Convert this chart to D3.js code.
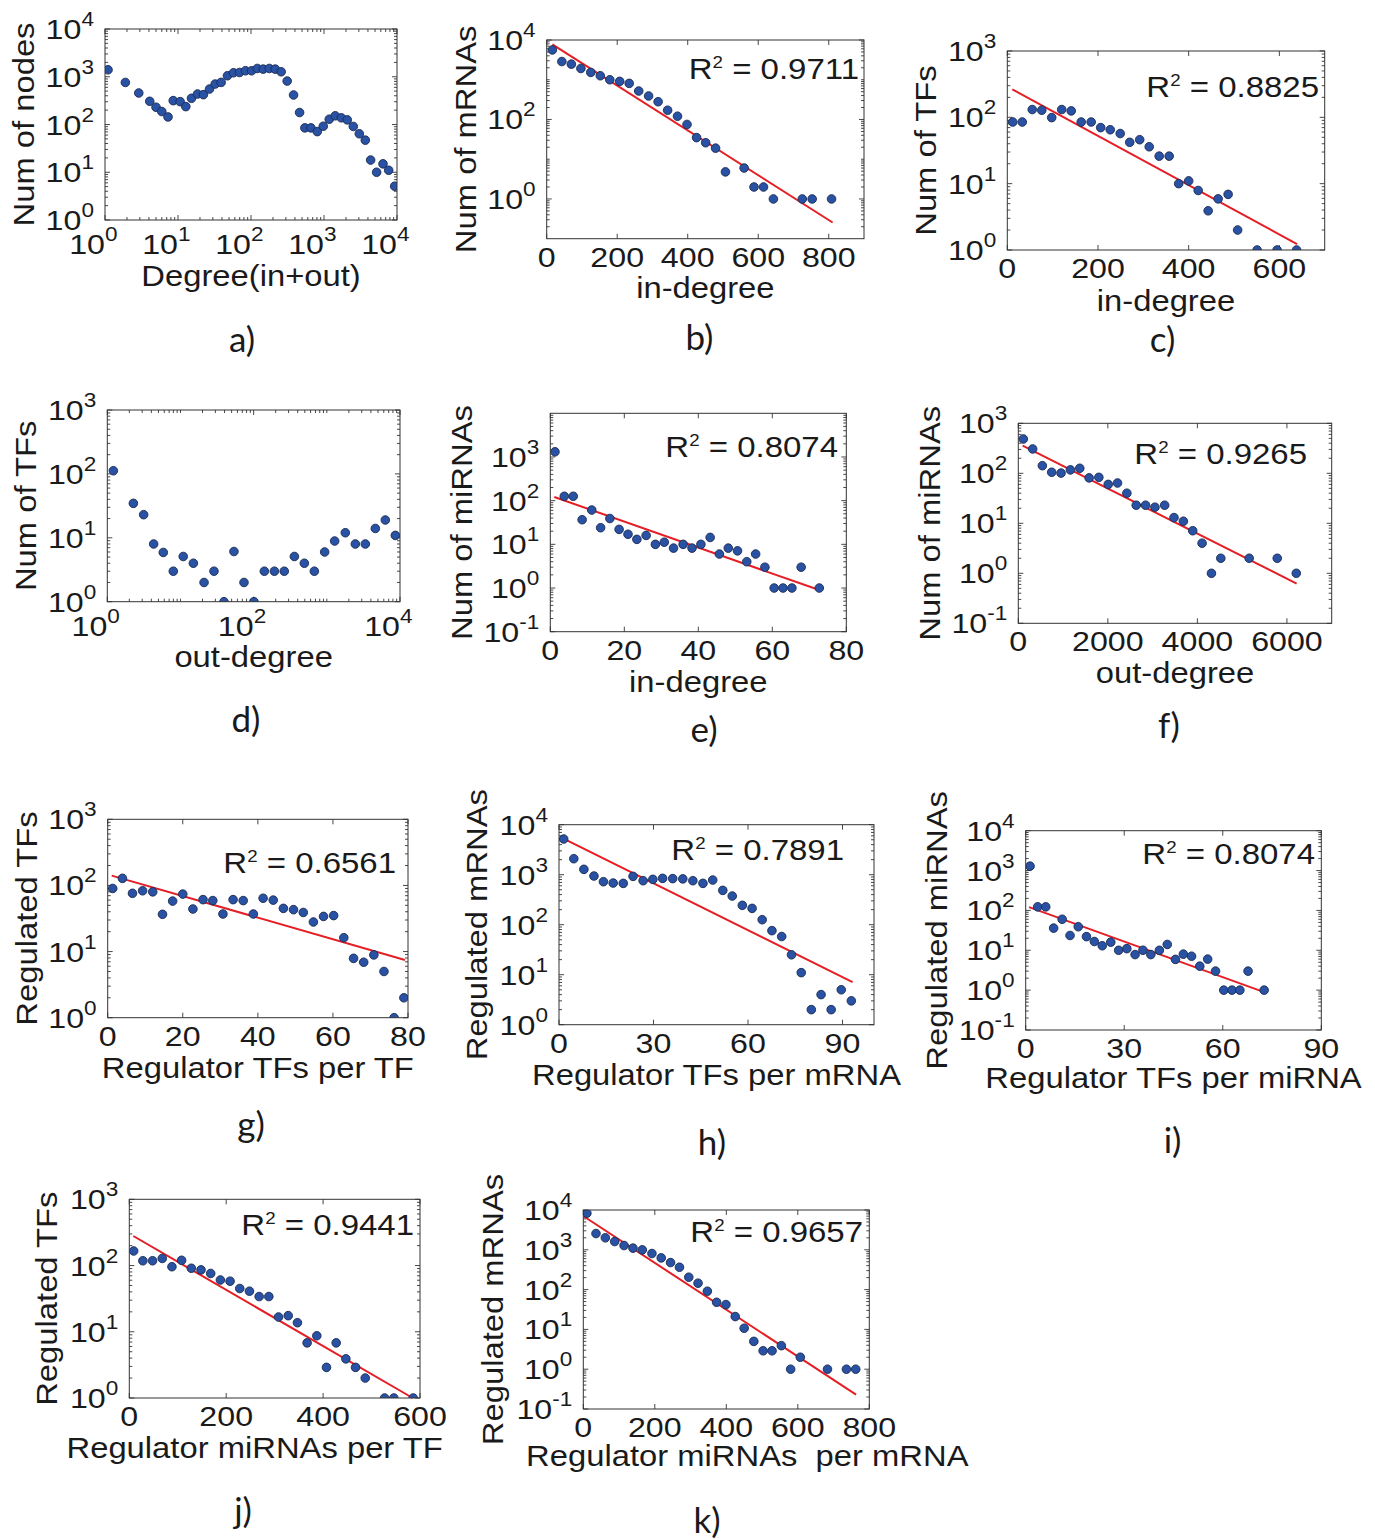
<!DOCTYPE html>
<html>
<head>
<meta charset="utf-8">
<script src="https://cdn.jsdelivr.net/npm/d3@7"></script>
<style>
  body { margin: 0; background: #fff; }
  text { font-family: "Liberation Sans", Arial, sans-serif; fill: #1a1a1a; }
  .lab { font-family: Lato, "Open Sans", sans-serif; }
</style>
</head>
<body>
<svg id="fig" width="1375" height="1540"></svg>
<script>
// ---- data ----
// a) all nodes, log-log
var degA   = [1.1,1.9,2.9,4.1,5,6,7.3,8.6,10.7,12.8,15.3,18.5,22.3,27,32.3,39,47.6,57.6,69.6,84,102,122,147,178,215,259,313,383,463,547,662,808,977,1180,1426,1725,2083,2519,3044,3680,4352,5261,6430,7690,9290];
var nodesA = [1400,760,457,306,230,187,144,316,301,237,354,435,422,553,703,762,1050,1211,1230,1334,1334,1492,1445,1492,1445,1271,812,415,178,85,85,71,92,129,152,138,125,91,64,47,18,10,15,11,5.1];
// b) mRNA in-degree
var inDegB = [16,43,70,97,125,152,179,207,234,261,289,316,343,371,398,425,451,479,507,560,588,615,643,725,753,808];
var mrnaB  = [5620,2870,2470,1920,1530,1260,1000,910,810,520,390,280,171,121,75,35,26,19,4.8,6,2,2,1,1,1,1];
// c) TF in-degree
var inDegC = [12,33,55,76,98,120,141,163,185,206,227,249,270,292,313,335,357,378,400,421,443,465,487,508,551,595,638];
var tfC    = [85,85,131,128,99,131,125,85,85,70,65,57,42,46,36,26,26,10,11,7.9,3.9,5.9,6.9,2,1,1,1];
// d) TF out-degree, log-log
var outDegD = [1.21,2.27,3.14,4.3,5.82,7.98,10.9,15,21,28.7,39.3,53.8,73.8,101,140,192,262,360,493,675,934,1279,1790,2453,3359,4600,6305,8635];
var tfD     = [112,34.6,23,8,5.9,3,5.1,4,2,3,1,6.1,2,1,3,3,3,5.1,4,3,6,8.9,12,8,8,14,19,10.9];
// e) miRNA in-degree
var inDegE = [1.26,3.78,6.2,8.6,11.2,13.6,16.1,18.6,21,23.4,25.9,28.4,30.8,33.3,35.9,38.3,40.7,43.2,45.7,48.1,50.6,53.1,55.5,58,60.5,62.9,65.3,67.8,72.7];
var mirE   = [1315,126,126,36.6,61,24,39,22,17,13,16,10,11.2,8.2,10,8.2,10,14.4,6,8.2,7.1,4,6,3,1,1,1,3,1];
// f) miRNA out-degree
var outDegF = [112,321,537,746,955,1164,1373,1582,1799,2008,2216,2425,2634,2843,3052,3269,3478,3687,3896,4105,4314,4523,5157,5784,6209];
var mirF    = [486,307,142,105,101,117,126,81,83,60,64,40,23,23,21,23,13,11,7.1,4,1,2,2,2,1];
// g) regulator TFs per TF
var regG = [1.34,3.93,6.6,9.3,12,14.6,17.3,20,22.7,25.4,28,30.7,33.4,36.1,38.8,41.4,44.1,46.8,49.5,52.1,54.8,57.5,60.2,62.9,65.5,68.2,70.9,73.6,76.3,78.9];
var tfG  = [90,128,76,83,80,36.6,58,74,44,61,59,37,61,59,37,64,60,45,43,39,28,34,35,16.2,7.9,6.9,8.9,5,1,2];
// h) regulator TFs per mRNA
var regH  = [1.49,4.7,7.9,11.1,14.1,17.2,20.4,23.5,26.7,29.8,32.9,36.1,39.3,42.5,45.7,48.8,52,55,58.2,61.3,64.5,67.6,70.7,73.8,76.9,80.1,83.2,86.4,89.6,92.8];
var mrnaH = [5170,2090,1280,940,724,681,671,926,759,807,845,835,825,759,671,782,486,374,244,212,126,76,58,25,11,2,4,2,5,3];
// i) regulator TFs per miRNA
var regI = [1.32,3.65,6.1,8.5,11.1,13.5,16,18.5,20.9,23.3,25.9,28.3,30.8,33.3,35.7,38.1,40.7,43.1,45.6,48,50.5,53,55.4,57.8,60.3,62.8,65.2,67.7,72.6];
var mirI = [1290,123,123,36,60,23.5,39,22,16.6,13,16,10,11,7.8,10,7.8,10,14,5.9,8,7.1,4,6,3,1,1,1,3,1];
// j) regulator miRNAs per TF
var regJ = [9,28,48,68,88,108,128,148,168,188,208,228,248,268,288,308,328,347,367,387,407,427,447,467,487,527,546,586];
var tfJ  = [166,118,118,128,96,120,91,86,76,60.5,58,45,41,34,34,16.7,17.5,13.7,6.8,8.7,2.9,6.8,3.9,2.9,2,1,1,1];
// k) regulator miRNAs per mRNA
var regK  = [10,35.5,61.7,87.9,114,139,165,192,218,244,269,295,321,347,373,399,425,450,477,503,528,554,580,607,683,736,762];
var mrnaK = [8310,2560,2000,1610,1280,1100,996,806,626,478,365,205,145,91,48,42,21,10.7,5,2.9,2.9,3.9,1,2,1,1,1];

// fits: [log10 intercept, slope, x start, x end]
var fitB = [3.982, -0.00564, 16, 811];
var fitC = [2.463, -0.003713, 11, 639];
var fitE = [2.116, -0.02975, 1.08, 72.7];
var fitF = [2.597, -0.000451, 97, 6217];
var fitG = [2.166, -0.01634, 1.07, 79.2];
var fitH = [3.767, -0.03127, 1.28, 93.2];
var fitI = [2.112, -0.02978, 1.01, 72.6];
var fitJ = [2.481, -0.004241, 8.3, 585];
var fitK = [3.847, -0.005878, 1.9, 763];

// tick labels
var decades04 = [1,10,100,1000,10000];
var decades03 = [1,10,100,1000];
var decadesM13 = [0.1,1,10,100,1000];
var decadesM14 = [0.1,1,10,100,1000,10000];
var evenDec = [1,100,10000];
var ticks0_800 = [0,200,400,600,800];
var ticks0_600 = [0,200,400,600];
var ticks0_80 = [0,20,40,60,80];
var ticks0_6000 = [0,2000,4000,6000];
var ticks0_90 = [0,30,60,90];

var panels = [
  {lab:"a)", x:degA, y:nodesA, xLog:true, xDom:[1,1e4], yDom:[1,1e4], xt:decades04, yt:decades04,
   xTitle:"Degree(in+out)", yTitle:"Num of nodes", box:[105,29,397,220], labPos:[242,352], xtOff:66, ytOff:71},
  {lab:"b)", x:inDegB, y:mrnaB, fit:fitB, r2:"0.9711", xDom:[0,900], yDom:[0.1,1e4], xt:ticks0_800, yt:evenDec,
   xTitle:"in-degree", yTitle:"Num of mRNAs", box:[546.7,40,864,238.7], labPos:[699.5,350], r2Pos:[859,79], xtOff:59, ytOff:71},
  {lab:"c)", x:inDegC, y:tfC, fit:fitC, r2:"0.8825", xDom:[0,700], yDom:[1,1000], xt:ticks0_600, yt:decades03,
   xTitle:"in-degree", yTitle:"Num of TFs", box:[1007.3,51,1324.7,250], labPos:[1162.5,352], r2Pos:[1319,97], xtOff:61, ytOff:71},
  {lab:"d)", x:outDegD, y:tfD, xLog:true, xDom:[1,1e4], yDom:[1,1000], xt:evenDec, yt:decades03,
   xTitle:"out-degree", yTitle:"Num of TFs", box:[107.3,410,400,601.7], labPos:[246,732], xtOff:65, ytOff:71},
  {lab:"e)", x:inDegE, y:mirE, fit:fitE, r2:"0.8074", xDom:[0,80], yDom:[0.1,1e4], xt:ticks0_80, yt:decadesM13,
   xTitle:"in-degree", yTitle:"Num of miRNAs", box:[550.3,413.3,846.3,631.7], labPos:[704,742], r2Pos:[838,457], xtOff:60, ytOff:78},
  {lab:"f)", x:outDegF, y:mirF, fit:fitF, r2:"0.9265", xDom:[0,7000], yDom:[0.1,1000], xt:ticks0_6000, yt:decadesM13,
   xTitle:"out-degree", yTitle:"Num of miRNAs", box:[1018.3,423.3,1331.7,623.3], labPos:[1169,738], r2Pos:[1307,464], xtOff:60, ytOff:78},
  {lab:"g)", x:regG, y:tfG, fit:fitG, r2:"0.6561", xDom:[0,80], yDom:[1,1000], xt:ticks0_80, yt:decades03,
   xTitle:"Regulator TFs per TF", yTitle:"Regulated TFs", box:[107.7,819.3,408,1017.7], labPos:[251,1137], r2Pos:[396,873], xtOff:60, ytOff:71},
  {lab:"h)", x:regH, y:mrnaH, fit:fitH, r2:"0.7891", xDom:[0,100], yDom:[1,1e4], xt:ticks0_90, yt:decades04,
   xTitle:"Regulator TFs per mRNA", yTitle:"Regulated mRNAs", box:[559,824.7,874,1024.7], labPos:[712,1155], r2Pos:[844,860], xtOff:60, ytOff:72},
  {lab:"i)", x:regI, y:mirI, fit:fitI, r2:"0.8074", xDom:[0,90], yDom:[0.1,1e4], xt:ticks0_90, yt:decadesM14,
   xTitle:"Regulator TFs per miRNA", yTitle:"Regulated miRNAs", box:[1025.7,830.7,1321.3,1030], labPos:[1172.5,1153], r2Pos:[1315,864], xtOff:58, ytOff:79},
  {lab:"j)", x:regJ, y:tfJ, fit:fitJ, r2:"0.9441", xDom:[0,600], yDom:[1,1000], xt:ticks0_600, yt:decades03,
   xTitle:"Regulator miRNAs per TF", yTitle:"Regulated TFs", box:[129.3,1199.3,420,1398], labPos:[243,1523], r2Pos:[414,1235], xtOff:60, ytOff:72, xtDx:-20},
  {lab:"k)", x:regK, y:mrnaK, fit:fitK, r2:"0.9657", xDom:[0,800], yDom:[0.1,1e4], xt:ticks0_800, yt:decadesM14,
   xTitle:"Regulator miRNAs  per mRNA", yTitle:"Regulated mRNAs", box:[583.3,1210,869.3,1409], labPos:[707,1533], r2Pos:[863,1242], xtOff:57, ytOff:80, xtDx:21}
];

var svg = d3.select("#fig");
var SX = 1.13;          // glyphs in the figure are a bit wider than Arial
var TICK = 28.5, TITLE = 29, R2 = 30;

function txt(parent, x, y, anchor, size, rot, sx) {
  var t = "translate(" + x + "," + y + ")" + (rot ? " rotate(" + rot + ")" : "") + " scale(" + (sx || SX) + ",1)";
  return parent.append("text").attr("transform", t)
    .attr("text-anchor", anchor).style("font-size", size + "px")
    .attr("xml:space", "preserve");
}
function expo(v) { return String(Math.round(Math.log10(v))); }

panels.forEach(function(p, pi) {
  var l = p.box[0], t = p.box[1], r = p.box[2], b = p.box[3];
  var g = svg.append("g");
  var x = (p.xLog ? d3.scaleLog() : d3.scaleLinear()).domain(p.xDom).range([l, r]);
  var y = d3.scaleLog().domain(p.yDom).range([b, t]);

  var cid = "clip" + pi;
  svg.append("clipPath").attr("id", cid).append("rect")
    .attr("x", l).attr("y", t).attr("width", r - l).attr("height", b - t);

  // ticks (inward, mirrored on both sides)
  var tk = g.append("g").attr("stroke", "#333").attr("stroke-width", 0.9);
  function logMinor(dom, major) {
    var out = [];
    var k0 = Math.floor(Math.log10(dom[0])), k1 = Math.ceil(Math.log10(dom[1]));
    for (var k = k0; k <= k1; k++) for (var m = 1; m <= 9; m++) {
      var v = m * Math.pow(10, k);
      if (v > dom[0] * 1.0001 && v < dom[1] * 0.9999 && major.indexOf(v) < 0) out.push(v);
    }
    return out;
  }
  p.yt.forEach(function(v) {
    tk.append("line").attr("x1", l).attr("x2", l + 5).attr("y1", y(v)).attr("y2", y(v));
    tk.append("line").attr("x1", r).attr("x2", r - 5).attr("y1", y(v)).attr("y2", y(v));
  });
  logMinor(p.yDom, p.yt).forEach(function(v) {
    tk.append("line").attr("x1", l).attr("x2", l + 3).attr("y1", y(v)).attr("y2", y(v));
    tk.append("line").attr("x1", r).attr("x2", r - 3).attr("y1", y(v)).attr("y2", y(v));
  });
  p.xt.forEach(function(v) {
    tk.append("line").attr("x1", x(v)).attr("x2", x(v)).attr("y1", b).attr("y2", b - 5);
    tk.append("line").attr("x1", x(v)).attr("x2", x(v)).attr("y1", t).attr("y2", t + 5);
  });
  if (p.xLog) logMinor(p.xDom, p.xt).forEach(function(v) {
    tk.append("line").attr("x1", x(v)).attr("x2", x(v)).attr("y1", b).attr("y2", b - 3);
    tk.append("line").attr("x1", x(v)).attr("x2", x(v)).attr("y1", t).attr("y2", t + 3);
  });

  // fit line
  if (p.fit) {
    var f = p.fit;
    var line = d3.line().x(function(d) { return x(d); })
      .y(function(d) { return y(Math.pow(10, f[0] + f[1] * d)); });
    g.append("path").datum([f[2], f[3]]).attr("d", line)
      .attr("fill", "none").attr("stroke", "#e51e25").attr("stroke-width", 2);
  }

  // points
  g.append("g").attr("clip-path", "url(#" + cid + ")")
    .selectAll("circle").data(p.x.map(function(d, i) { return [d, p.y[i]]; }))
    .enter().append("circle")
    .attr("cx", function(d) { return x(d[0]); })
    .attr("cy", function(d) { return y(d[1]); })
    .attr("r", 4.3)
    .attr("fill", "#2a52a4").attr("stroke", "#1a2a50").attr("stroke-width", 0.9);

  // box
  g.append("rect").attr("x", l).attr("y", t).attr("width", r - l).attr("height", b - t)
    .attr("fill", "none").attr("stroke", "#333").attr("stroke-width", 1);

  // y tick labels 10^n
  p.yt.forEach(function(v) {
    var s = txt(g, l - 11, y(v) + 10, "end", TICK);
    s.append("tspan").text("10");
    s.append("tspan").attr("dy", -13).style("font-size", "20px").text(expo(v));
  });
  // x tick labels
  p.xt.forEach(function(v) {
    if (p.xLog) {
      txt(g, x(v), b + 34, "end", TICK).text("10");
      txt(g, x(v), b + 21, "start", 20).text(expo(v));
    } else {
      txt(g, x(v), b + 28, "middle", TICK).text(String(v));
    }
  });

  // axis titles
  txt(g, (l + r) / 2 + (p.xtDx || 0), b + p.xtOff, "middle", TITLE).text(p.xTitle);
  txt(g, l - p.ytOff, (t + b) / 2, "middle", TITLE, -90).text(p.yTitle);

  // R^2
  if (p.r2) {
    var s = txt(g, p.r2Pos[0], p.r2Pos[1], "end", R2, 0, 1.1);
    s.append("tspan").text("R");
    s.append("tspan").attr("dy", -11).style("font-size", "17px").text("2");
    s.append("tspan").attr("dy", 11).text(" = " + p.r2);
  }

  // panel letter
  svg.append("text").attr("class", "lab").attr("x", p.labPos[0]).attr("y", p.labPos[1])
    .attr("text-anchor", "middle").style("font-size", "35px").text(p.lab);
});
</script>
</body>
</html>
